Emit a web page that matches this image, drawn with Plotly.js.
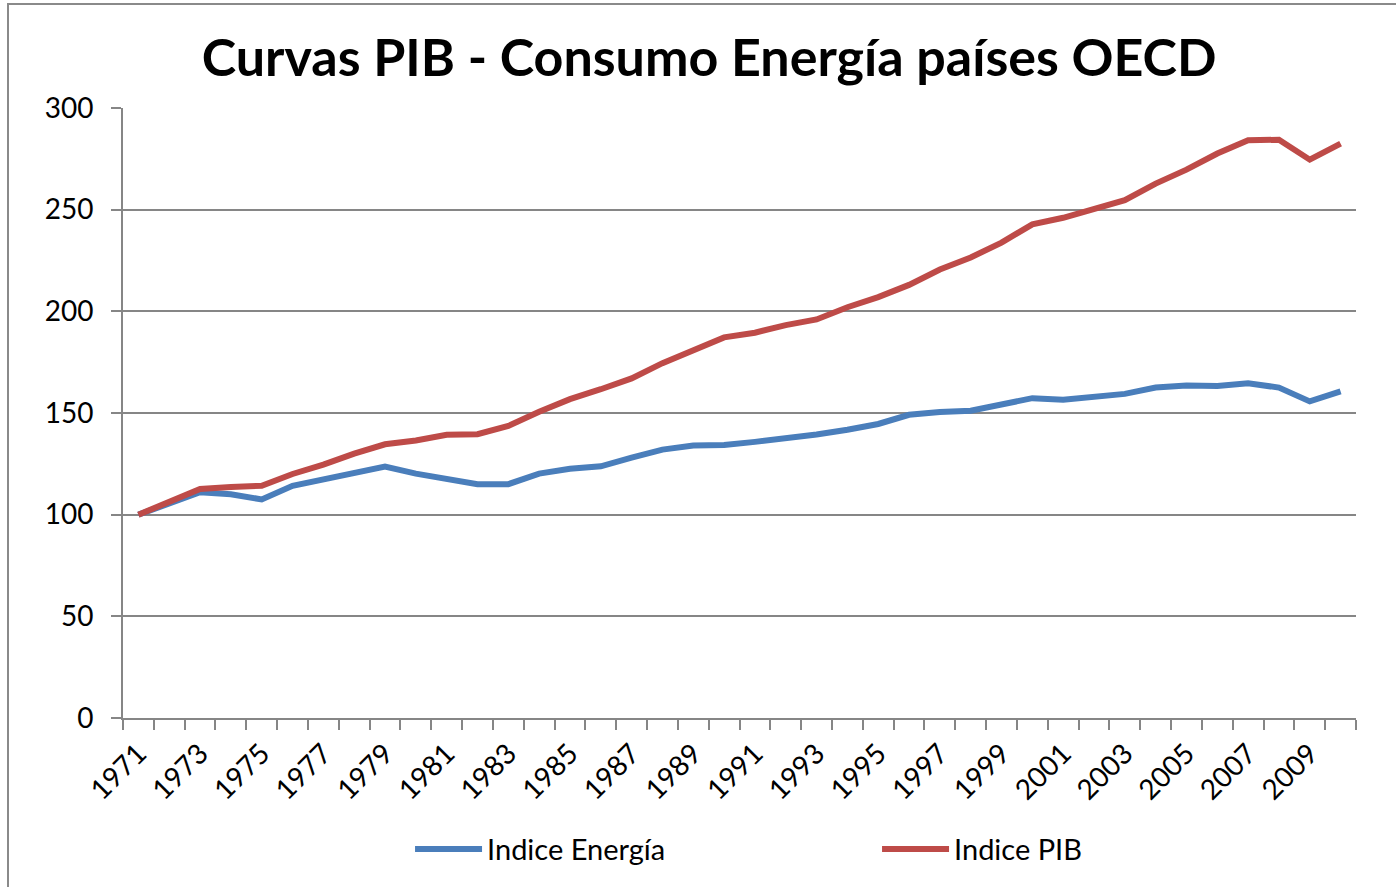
<!DOCTYPE html>
<html>
<head>
<meta charset="utf-8">
<script src="https://cdn.plot.ly/plotly-3.0.1.min.js"></script>
<style>
  html, body { margin: 0; padding: 0; background: #fff; }
  #wrap { position: relative; width: 1396px; height: 887px; }
  #chart { position: absolute; left: 0; top: 0; width: 1396px; height: 887px; }
  #frame { position: absolute; left: 7px; top: 3px; width: 1389px; height: 884px;
           border-top: 2px solid #8a8a8a; border-left: 2px solid #8a8a8a; box-sizing: border-box; pointer-events: none; }
</style>
</head>
<body>
<div id="wrap">
  <div id="chart"></div>
  <div id="frame"></div>
</div>
<script>
const years = [1971,1972,1973,1974,1975,1976,1977,1978,1979,1980,
               1981,1982,1983,1984,1985,1986,1987,1988,1989,1990,
               1991,1992,1993,1994,1995,1996,1997,1998,1999,2000,
               2001,2002,2003,2004,2005,2006,2007,2008,2009,2010];

const indiceEnergia = [100,105.5,111,110,107.5,114.2,117.4,120.7,123.6,120.2,
                       117.4,115,115,120.2,122.6,123.8,128,132,134,134.3,
                       135.8,137.3,139.4,141.8,144.6,149.1,150.5,151.1,154,157.3,
                       156.5,157.6,159.4,162.5,163.5,163.3,164.6,162.5,155.7,160.6];

const indicePIB = [100,106,112.6,113.6,114.2,120,124.6,130,134.6,136.5,
                   139.3,139.6,143.6,150.6,156.8,161.7,167,174.5,181.2,187.2,
                   189.5,193.2,196,202,207,213,220.6,226.5,233.8,242.8,
                   246,250.1,254.7,262.8,269.7,277.6,284.1,284.4,274.6,282.5];

const tickYears = years.filter((y, i) => i % 2 === 0);
const tickText = tickYears.map(String);

const FONT = 'Lato, "Open Sans", sans-serif';
const GRID = '#868686';

const traces = [
  { x: years, y: indiceEnergia, type: 'scatter', mode: 'lines', name: 'Indice Energía',
    line: { color: '#4a7ebb', width: 6 } },
  { x: years, y: indicePIB, type: 'scatter', mode: 'lines', name: 'Indice PIB',
    line: { color: '#be4b48', width: 6 } }
];

const layout = {
  width: 1396, height: 887,
  paper_bgcolor: '#ffffff', plot_bgcolor: '#ffffff',
  margin: { l: 123, r: 40, t: 108, b: 160 },
  font: { family: FONT, color: '#000', size: 27 },
  title: { text: '<b>Curvas PIB - Consumo Energía países OECD</b>',
           font: { family: FONT, size: 52, color: '#000' },
           x: 0.508, xanchor: 'center', y: 0.935, yanchor: 'middle' },
  xaxis: {
    range: [1970.5, 2010.5],
    tickmode: 'array', tickvals: tickYears, ticktext: tickText,
    tickangle: -45, ticks: '', showgrid: false, zeroline: false,
    showline: true, linecolor: GRID, linewidth: 2,
    tickfont: { family: FONT, size: 28, color: '#000' },
    ticklabelstandoff: 6,
    minor: { ticks: 'outside', tick0: 1970.5, dtick: 1, ticklen: 10, tickwidth: 2,
             tickcolor: GRID, showgrid: false }
  },
  yaxis: {
    range: [0, 300], tickmode: 'linear', tick0: 0, dtick: 50,
    ticks: 'outside', ticklen: 10, tickwidth: 2, tickcolor: GRID,
    showgrid: true, gridcolor: GRID, gridwidth: 2,
    zeroline: false, showline: true, linecolor: GRID, linewidth: 2,
    tickfont: { family: FONT, size: 28, color: '#000' },
    ticklabelstandoff: 12
  },
  showlegend: true,
  legend: {
    orientation: 'h', x: 0.2328, xanchor: 'left', y: -0.215, yanchor: 'middle',
    font: { family: FONT, size: 29, color: '#000' },
    entrywidth: 385, itemwidth: 67, bgcolor: 'rgba(0,0,0,0)'
  }
};

Plotly.newPlot('chart', traces, layout, { displayModeBar: false, staticPlot: true });
</script>
</body>
</html>
